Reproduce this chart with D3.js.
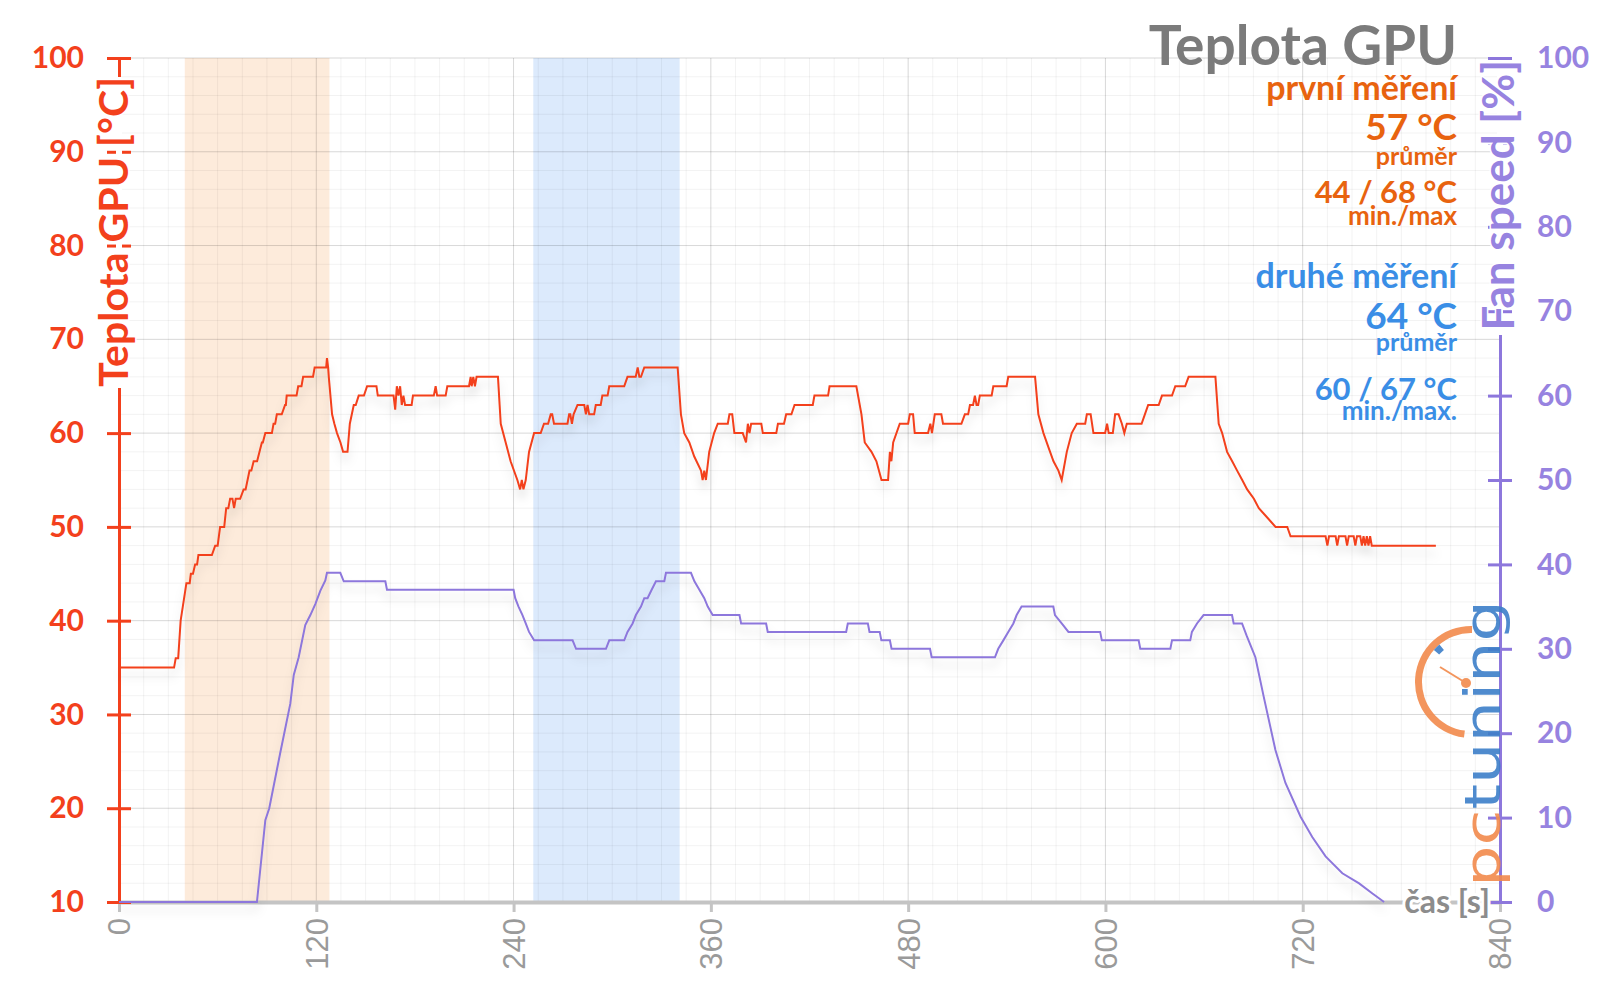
<!DOCTYPE html>
<html>
<head>
<meta charset="utf-8">
<script src="https://cdn.jsdelivr.net/npm/d3@7"></script>
<style>
  body { margin: 0; background: #fff; }
  svg { display: block; }
</style>
</head>
<body>
<div id="chart"></div>
<script>
// ---- data: [time s, value] ----
var tempSeries = [
  [0,35],[33.5,35],[34.5,36],[36,36],[37.5,40],[41,44],[43,44],[43.7,45],[45,45],[46.3,46],[47.5,46],
  [48.3,47],[56.5,47],[58.5,48],[60,48],[61.5,50],[64,50],[65.2,52],[66.5,52],[67.6,53],[69,53],[70,52],
  [71,53],[73.7,53],[75.8,54],[77,54],[79.4,56],[80.5,56],[81.9,57],[84,57],[86.9,59],[87.5,59],[89,60],
  [93,60],[94,61],[95,61],[96,62],[99,62],[101,63],[101.5,63],[102,64],[108,64],[109,65],[111,65],[112,66],
  [118,66],[119,67],[126,67],[126.5,68],[127.2,67],[127.6,66],[129.6,62],[131,61],[132.6,60],[134.7,59],
  [136.3,58],[139,58],[140.4,61],[142.8,63],[144,63],[145.8,64],[149,64],[150.9,65],[156.6,65],[157.4,64],
  [167,64],[168,62.5],[169,65],[170,64],[171,65],[172,63],[173,64],[174,63],[178,63],[178.8,64],[191.5,64],
  [192.6,65],[193.5,64],[198.7,64],[199.7,65],[212.9,65],[213.9,66],[214.5,65],[215.5,66],[216.5,65],
  [217.5,66],[230.5,66],[232.2,61],[235.2,59],[238.2,57],[242.3,55],[244,54],[245,55],[246,54],[247.4,55],
  [249.4,58],[252.5,60],[256.5,60],[258.5,61],[261,61],[262.6,62],[263.5,62],[264.6,61],[272.8,61],
  [273.8,62],[274.5,62],[275.5,61],[276.5,62],[278.9,63],[283,63],[284,62],[285,63],[286,62],[289,62],
  [290,63],[293,63],[294,64],[297.2,64],[298.2,65],[307.3,65],[309.3,66],[314.3,66],[315.5,67],[316.5,66],
  [317.5,66],[319.5,67],[339.8,67],[341.8,62],[343.8,60],[346.9,59],[349.9,57.5],[354,56],[355,55],
  [356,56],[357,55],[359,58],[362,60],[364.2,61],[370.3,61],[371.3,62],[373,62],[374.3,60],[379.4,60],
  [381.4,59],[382.5,61],[383.5,60],[384.5,61],[390.7,61],[391.6,60],[399.8,60],[400.8,61],[404.5,61],
  [405.8,62],[409,62],[410.9,63],[422,63],[423,64],[431.3,64],[432.2,65],[448.5,65],[451.6,62],[453.6,59],
  [457.7,58],[460.7,57],[463.8,55],[467.8,55],[468.9,58],[469.8,57],[470.9,59],[474.9,61],[480,61],
  [481,62],[483,62],[484,60],[492.1,60],[493.5,61],[494.5,60],[496.2,62],[500.2,62],[501.2,61],[512.4,61],
  [514.5,62],[516.5,62],[517.6,63],[519.5,63],[520.6,64],[521.6,63],[522.6,63],[523.6,64],[530.8,64],
  [531.8,65],[539.9,65],[540.9,66],[557.2,66],[559.2,62],[562.3,60],[565.3,58.5],[568.4,57],[571.4,56],
  [573.4,55],[576.5,58],[579.5,60],[582.6,61],[587.7,61],[588.7,62],[591,62],[592.7,60],[599.8,60],
  [601,61],[602,60],[604.5,60],[605.9,62],[608,62],[610,61],[611.5,60],[613,61],[622,61],[624,62],
  [626,63],[632.4,63],[634.4,64],[640.5,64],[642.5,65],[648.5,65],[650.6,66],[666.9,66],[668.9,61],
  [671,60],[674,58],[677.1,57],[680.1,56],[683.2,55],[686.2,54],[690.3,53],[693.3,52],[698.4,51],
  [703.5,50],[710.6,50],[712.6,49],[733.9,49],[735,48],[736,49],[740,49],[741,48],[742,49],[746,49],
  [747,48],[748,49],[751,49],[752,48],[753,49],[755,49],[756,48],[757,49],[758,48],[759,49],[760,48],
  [761,49],[762,48],[763.3,48],[801,48]
];

var fanSeries = [
  [0,0],[83.9,0],[89,9.7],[91.4,11.1],[98,17.6],[104.2,23.5],[106.3,26.9],[109.3,29],[113.3,32.8],
  [116.4,34],[119.4,35.3],[122.5,36.9],[125.5,38.1],[126.5,39],[134.6,39],[136.7,38],[162,38],[163,37],
  [240,37],[241,36],[243,35],[245.4,34],[247.4,33],[249.4,32],[252.5,31],[275.9,31],[278,30],[296.2,30],
  [298.2,31],[307.3,31],[309.3,32],[312.4,33],[314.4,34],[317.5,35],[319.5,36],[321.5,36],[324,37],
  [326.6,38],[331.7,38],[332.7,39],[347.9,39],[350,38],[353,37],[356,36],[358.1,35],[361.1,34],[377.4,34],
  [378.4,33],[393.6,33],[394.6,32],[442.3,32],[443.3,33],[455.5,33],[456.5,32],[462.7,32],[463.7,31],
  [468.9,31],[469.9,30],[493.3,30],[494.3,29],[532.8,29],[534.8,30],[537.9,31],[540.9,32],[544,33],
  [546,34],[549,35],[568.3,35],[569.3,34],[573.4,33],[577.5,32],[596.8,32],[597.8,31],[620.2,31],
  [621.2,30],[639.5,30],[640.5,31],[651.6,31],[652.6,32],[655.7,33],[659.7,34],[677,34],[678,33],
  [683.1,33],[686,31.5],[691.2,29],[696.3,24.3],[703.4,18],[709.5,14.1],[718.7,10.1],[725.8,7.7],
  [733.9,5.4],[744.1,3.4],[754.3,2.2],[762.4,1],[769.5,0]
];

// measured intervals (first = orange, second = blue)
var measureBands = [[40,128],[252,341]];

var timeTicks = [0,120,240,360,480,600,720,840];
var tempTicks = [10,20,30,40,50,60,70,80,90,100];
var fanTicks  = [0,10,20,30,40,50,60,70,80,90,100];

// ---- setup ----
var width = 1600, height = 996;
var svg = d3.select("#chart").append("svg")
    .attr("width", width)
    .attr("height", height);

var x  = d3.scaleLinear().domain([0, 840]).range([119, 1500]);
var yT = d3.scaleLinear().domain([10, 100]).range([902, 58]);
var yF = d3.scaleLinear().domain([0, 100]).range([902, 58]);

var red = "#f3401c", purple = "#8d77dc", purpleLbl = "#9783e0";
var orangeTxt = "#e8630f", blueTxt = "#3a8ee6";
var font = "Lato, 'Open Sans', sans-serif";

var defs = svg.append("defs");
var filt = defs.append("filter").attr("id", "shadow")
    .attr("x", "-5%").attr("y", "-30%").attr("width", "110%").attr("height", "170%");
filt.append("feDropShadow").attr("dx", 0).attr("dy", 8).attr("stdDeviation", 5)
    .attr("flood-color", "#000").attr("flood-opacity", 0.13);

// bands
var bandColors = ["#fdebdb", "#dceafc"];
svg.append("g").selectAll("rect")
    .data(measureBands)
    .enter().append("rect")
    .attr("x", function(d) { return x(d[0]); })
    .attr("width", function(d) { return x(d[1]) - x(d[0]); })
    .attr("y", yT(100))
    .attr("height", yT(10) - yT(100))
    .attr("fill", function(d, i) { return bandColors[i]; });

// grid
var grid = svg.append("g");
grid.selectAll(".vminor").data(d3.range(0, 841, 15)).enter().append("line")
    .attr("x1", x).attr("x2", x).attr("y1", yT(100)).attr("y2", yT(10))
    .attr("stroke", "#000").attr("stroke-opacity", 0.05);
grid.selectAll(".hminor").data(d3.range(10, 101, 2)).enter().append("line")
    .attr("x1", x(0)).attr("x2", x(840)).attr("y1", yT).attr("y2", yT)
    .attr("stroke", "#000").attr("stroke-opacity", 0.05);
grid.selectAll(".vmajor").data(timeTicks).enter().append("line")
    .attr("x1", x).attr("x2", x).attr("y1", yT(100)).attr("y2", yT(10))
    .attr("stroke", "#000").attr("stroke-opacity", 0.11);
grid.selectAll(".hmajor").data(tempTicks).enter().append("line")
    .attr("x1", x(0)).attr("x2", x(840)).attr("y1", yT).attr("y2", yT)
    .attr("stroke", "#000").attr("stroke-opacity", 0.11);

// x axis
var xAxis = svg.append("g")
    .attr("transform", "translate(0," + yT(10) + ")")
    .call(d3.axisBottom(x).tickValues(timeTicks).tickSize(10).tickSizeOuter(0));
xAxis.select(".domain").attr("stroke", "#c4c4c4").attr("stroke-width", 4);
xAxis.selectAll(".tick line").attr("stroke", "#c4c4c4").attr("stroke-width", 3);
xAxis.selectAll(".tick text")
    .attr("transform", "rotate(-90)")
    .attr("x", -16).attr("y", 0).attr("dy", "0.35em")
    .attr("text-anchor", "end")
    .attr("fill", "#9a9a9a")
    .style("font-family", "'Liberation Sans', Arial, sans-serif")
    .style("font-size", "31px");

// left axis (temperature)
var left = svg.append("g").attr("transform", "translate(" + x(0) + ",0)");
left.call(d3.axisLeft(yT).tickValues(d3.range(10, 101, 2)).tickSize(8).tickSizeOuter(0).tickFormat(""));
left.call(d3.axisLeft(yT).tickValues(tempTicks).tickSize(12).tickSizeOuter(0).tickPadding(23));
left.append("g").call(d3.axisRight(yT).tickValues(tempTicks).tickSize(12).tickSizeOuter(0).tickFormat(""));
left.selectAll(".domain").attr("stroke", red).attr("stroke-width", 3);
left.selectAll(".tick line").attr("stroke", red).attr("stroke-width", 3);
left.selectAll(".tick text")
    .attr("fill", red)
    .style("font-family", font).style("font-weight", "bold").style("font-size", "30px");

// right axis (fan)
var right = svg.append("g").attr("transform", "translate(" + x(840) + ",0)");
right.call(d3.axisRight(yF).tickValues(d3.range(0, 101, 5)).tickSize(8).tickSizeOuter(0).tickFormat(""));
right.call(d3.axisRight(yF).tickValues(fanTicks).tickSize(12).tickSizeOuter(0).tickPadding(25));
right.append("g").call(d3.axisLeft(yF).tickValues(fanTicks).tickSize(12).tickSizeOuter(0).tickFormat(""));
right.selectAll(".domain").attr("stroke", purple).attr("stroke-width", 3);
right.selectAll(".tick line").attr("stroke", purple).attr("stroke-width", 3);
right.selectAll(".tick text")
    .attr("fill", purpleLbl)
    .style("font-family", font).style("font-weight", "bold").style("font-size", "30px");

// axis titles (white strip hides axis line behind the text)
svg.append("rect").attr("x", x(0) - 3).attr("y", 77).attr("width", 6).attr("height", 311).attr("fill", "#fff");
svg.append("text")
    .attr("transform", "translate(128,77) rotate(-90)")
    .attr("text-anchor", "end")
    .attr("fill", red)
    .attr("stroke", "#fff").attr("stroke-width", 3).attr("paint-order", "stroke")
    .style("font-family", font).style("font-weight", "bold").style("font-size", "41px")
    .text("Teplota GPU [°C]");

svg.append("rect").attr("x", x(840) - 3).attr("y", 60).attr("width", 6).attr("height", 275).attr("fill", "#fff");
svg.append("text")
    .attr("transform", "translate(1514,60) rotate(-90)")
    .attr("text-anchor", "end")
    .attr("fill", purpleLbl)
    .attr("stroke", "#fff").attr("stroke-width", 3).attr("paint-order", "stroke")
    .style("font-family", font).style("font-weight", "bold").style("font-size", "44px")
    .text("Fan speed [%]");

// logo pcTuning
var logo = svg.append("g").attr("opacity", 0.9);
var arc = d3.arc();
logo.append("path")
    .attr("transform", "translate(1471,682)")
    .attr("d", arc({innerRadius: 49, outerRadius: 56, startAngle: -Math.PI * 0.96, endAngle: 0.02}))
    .attr("fill", "#f28a4c");
logo.append("path")
    .attr("transform", "translate(1471,682)")
    .attr("d", arc({innerRadius: 42, outerRadius: 49, startAngle: -0.86, endAngle: -0.7}))
    .attr("fill", "#3d7fc9");
logo.append("line")
    .attr("x1", 1440).attr("y1", 667).attr("x2", 1466).attr("y2", 683)
    .attr("stroke", "#f28a4c").attr("stroke-width", 2);
logo.append("circle").attr("cx", 1466).attr("cy", 683).attr("r", 5).attr("fill", "#f28a4c");
var logoText = logo.append("text")
    .attr("transform", "translate(1500,887) rotate(-90)")
    .attr("textLength", 287).attr("lengthAdjust", "spacingAndGlyphs")
    .style("font-family", "'DejaVu Sans', sans-serif").style("font-size", "50px");
logoText.append("tspan").attr("fill", "#f28a4c").text("pc");
logoText.append("tspan").attr("fill", "#3d7fc9").text("tuning");

// lines
var tempLine = d3.line().x(function(d) { return x(d[0]); }).y(function(d) { return yT(d[1]); });
var fanLine  = d3.line().x(function(d) { return x(d[0]); }).y(function(d) { return yF(d[1]); });

svg.append("path").datum(fanSeries)
    .attr("d", fanLine)
    .attr("fill", "none").attr("stroke", purple).attr("stroke-width", 2)
    .attr("filter", "url(#shadow)");
svg.append("path").datum(tempSeries)
    .attr("d", tempLine)
    .attr("fill", "none").attr("stroke", red).attr("stroke-width", 2)
    .attr("filter", "url(#shadow)");

// x axis label
svg.append("text")
    .attr("x", 1490).attr("y", 913)
    .attr("text-anchor", "end")
    .attr("fill", "#8c8c8c")
    .attr("stroke", "#fff").attr("stroke-width", 6).attr("paint-order", "stroke")
    .style("font-family", font).style("font-weight", "bold").style("font-size", "32px")
    .text("čas [s]");

// info block, top right
function info(txt, y, size, color) {
  svg.append("text")
    .attr("x", 1457).attr("y", y)
    .attr("text-anchor", "end")
    .attr("fill", color)
    .style("font-family", font).style("font-weight", "bold").style("font-size", size + "px")
    .text(txt);
}
info("Teplota GPU", 65, 55, "#7b7b7b");
info("první měření", 100, 34, orangeTxt);
info("57 °C", 140, 37, orangeTxt);
info("průměr", 165, 25, orangeTxt);
info("44 / 68 °C", 203, 31, orangeTxt);
info("min./max", 225, 26, orangeTxt);
info("druhé měření", 288, 34, blueTxt);
info("64 °C", 329, 37, blueTxt);
info("průměr", 351, 25, blueTxt);
info("60 / 67 °C", 400, 31, blueTxt);
info("min./max.", 420, 26, blueTxt);
</script>
</body>
</html>
